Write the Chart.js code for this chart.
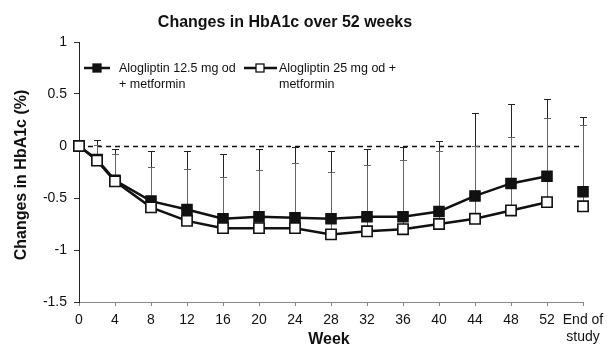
<!DOCTYPE html>
<html>
<head>
<meta charset="utf-8">
<script src="https://cdn.jsdelivr.net/npm/chart.js@4/dist/chart.umd.min.js"></script>
<style>
  html, body { margin: 0; padding: 0; background: #fff; }
  #wrap { width: 607px; height: 355px; position: relative; }
</style>
</head>
<body>
<div id="wrap"><canvas id="c" width="607" height="355"></canvas></div>
<script>
// ---- data ----
const weeks = [0, 2, 4, 8, 12, 16, 20, 24, 28, 32, 36, 40, 44, 48, 52];
const endOfStudyWeek = 56;
const xTickLabels = { 56: ['End of', 'study'] };
const yTickLabels = { 1: '1', 0.5: '0.5', 0: '0', '-0.5': '-0.5', '-1': '-1', '-1.5': '-1.5' };
const alo125 = [0, -0.13, -0.33, -0.53, -0.61, -0.70, -0.68, -0.69, -0.70, -0.68, -0.68, -0.63, -0.48, -0.36, -0.29];
const alo125End = -0.44;
const alo25 = [0, -0.14, -0.34, -0.59, -0.72, -0.79, -0.79, -0.79, -0.85, -0.82, -0.80, -0.75, -0.70, -0.62, -0.54];
const alo25End = -0.58;
// upper end of error bars (absolute values), null = no bar
const alo125Upper = [null, 0.06, -0.03, -0.05, -0.045, -0.08, -0.03, -0.01, -0.045, -0.025, -0.01, 0.045, 0.32, 0.40, 0.45];
const alo125UpperEnd = 0.275;
const alo25Upper = [null, 0.01, -0.08, -0.20, -0.22, -0.30, -0.23, -0.16, -0.25, -0.18, -0.135, -0.045, 0.00, 0.09, 0.265];
const alo25UpperEnd = 0.20;
const seriesNames = [['Alogliptin 12.5 mg od', '+ metformin'], ['Alogliptin 25 mg od +', 'metformin']];
const titleText = 'Changes in HbA1c over 52 weeks';
const yTitle = 'Changes in HbA1c (%)';
const xTitle = 'Week';

function buildPoints(vals, endVal) {
  const pts = weeks.map((w, i) => ({ x: w, y: vals[i] }));
  pts.push({ x: (weeks[weeks.length - 1] + endOfStudyWeek) / 2, y: null }); // gap before end of study
  pts.push({ x: endOfStudyWeek, y: endVal });
  return pts;
}
function buildUpper(vals, endVal) {
  const pts = weeks.map((w, i) => ({ x: w, y: vals[i] }));
  pts.push({ x: endOfStudyWeek, y: endVal });
  return pts;
}
const upperSets = [buildUpper(alo125Upper, alo125UpperEnd), buildUpper(alo25Upper, alo25UpperEnd)];
const meanSets = [buildPoints(alo125, alo125End), buildPoints(alo25, alo25End)];

const FONT = '"Liberation Sans", Arial, sans-serif';

const extras = {
  id: 'extras',
  beforeDatasetsDraw(chart) {
    const { ctx, chartArea, scales: { x, y } } = chart;
    ctx.save();
    // dashed zero line
    ctx.strokeStyle = '#111';
    ctx.lineWidth = 1.3;
    ctx.setLineDash([5, 4]);
    ctx.beginPath();
    const y0 = Math.round(y.getPixelForValue(0)) + 0.5;
    ctx.moveTo(chartArea.left, y0);
    ctx.lineTo(chartArea.right, y0);
    ctx.stroke();
    ctx.setLineDash([]);
    // error bars (upper only)
    const colors = ['#222', '#666'];
    [0, 1].forEach(s => {
      const means = meanSets[s].filter(p => p.y !== null);
      upperSets[s].forEach((p) => {
        if (p.y === null) return;
        const m = means.find(q => q.x === p.x);
        const px = Math.round(x.getPixelForValue(p.x)) + 0.5;
        const py1 = y.getPixelForValue(m.y);
        const py2 = Math.round(y.getPixelForValue(p.y)) + 0.5;
        ctx.strokeStyle = colors[s];
        ctx.lineWidth = 1;
        ctx.beginPath();
        ctx.moveTo(px, py1);
        ctx.lineTo(px, py2);
        ctx.moveTo(px - 3.5, py2);
        ctx.lineTo(px + 3.5, py2);
        ctx.stroke();
      });
    });
    ctx.restore();
  },
  afterDraw(chart) {
    const { ctx } = chart;
    ctx.save();
    ctx.fillStyle = '#111';
    // title
    ctx.font = 'bold 16px ' + FONT;
    ctx.textAlign = 'center';
    ctx.textBaseline = 'alphabetic';
    ctx.fillText(titleText, 285, 27);
    // x title
    ctx.fillText(xTitle, 329, 344);
    // y title
    ctx.save();
    ctx.translate(26, 175);
    ctx.rotate(-Math.PI / 2);
    ctx.fillText(yTitle, 0, 0);
    ctx.restore();
    // legend
    const items = [
      { x0: 84, x1: 110, sq: 97, tx: 119, fill: '#111' },
      { x0: 244, x1: 277, sq: 260, tx: 279, fill: '#fff' }
    ];
    ctx.font = '12.5px ' + FONT;
    ctx.textAlign = 'left';
    items.forEach((it, i) => {
      ctx.strokeStyle = '#111';
      ctx.lineWidth = 2.5;
      ctx.beginPath();
      ctx.moveTo(it.x0, 68);
      ctx.lineTo(it.x1, 68);
      ctx.stroke();
      ctx.lineWidth = 1.3;
      ctx.fillStyle = it.fill;
      ctx.fillRect(it.sq - 4, 64, 8, 8);
      ctx.strokeRect(it.sq - 4, 64, 8, 8);
      ctx.fillStyle = '#111';
      ctx.fillText(seriesNames[i][0], it.tx, 72);
      ctx.fillText(seriesNames[i][1], it.tx, 88);
    });
    ctx.restore();
  }
};

new Chart(document.getElementById('c'), {
  type: 'line',
  data: {
    datasets: [
      {
        label: seriesNames[0].join(' '),
        data: meanSets[0],
        order: 1,
        borderColor: '#111',
        backgroundColor: '#111',
        borderWidth: 2.5,
        pointStyle: 'rect',
        pointRadius: 7.3,
        pointBorderWidth: 1.2,
        pointBackgroundColor: '#111',
        pointBorderColor: '#111',
        spanGaps: false,
        clip: false,
        tension: 0
      },
      {
        label: seriesNames[1].join(' '),
        data: meanSets[1],
        order: 0,
        borderColor: '#111',
        backgroundColor: '#fff',
        borderWidth: 2.5,
        pointStyle: 'rect',
        pointRadius: 7.3,
        pointBorderWidth: 1.6,
        pointBackgroundColor: '#fff',
        pointBorderColor: '#111',
        spanGaps: false,
        clip: false,
        tension: 0
      }
    ]
  },
  options: {
    responsive: false,
    animation: false,
    events: [],
    layout: { padding: { left: 0, top: 42, right: 24, bottom: 0 } },
    plugins: { legend: { display: false }, title: { display: false }, tooltip: { enabled: false } },
    scales: {
      x: {
        type: 'linear',
        min: 0,
        max: 56,
        ticks: {
          stepSize: 4,
          autoSkip: false,
          maxRotation: 0,
          padding: 6,
          color: '#111',
          font: { family: FONT, size: 14 },
          callback: v => (xTickLabels[v] !== undefined ? xTickLabels[v] : String(v))
        },
        grid: { drawOnChartArea: false, drawTicks: true, tickLength: 4, color: '#888' },
        border: { color: '#888', width: 1 },
        afterFit(scale) { scale.height = 53; scale.paddingLeft = 0; scale.paddingRight = 0; }
      },
      y: {
        min: -1.5,
        max: 1,
        ticks: {
          stepSize: 0.5,
          padding: 7,
          color: '#111',
          font: { family: FONT, size: 14 },
          callback: v => (yTickLabels[String(v)] !== undefined ? yTickLabels[String(v)] : String(v))
        },
        grid: { drawOnChartArea: false, drawTicks: true, tickLength: 5, color: '#333' },
        border: { color: '#222', width: 1 },
        afterFit(scale) { scale.width = 79; scale.paddingTop = 0; scale.paddingBottom = 0; }
      }
    }
  },
  plugins: [extras]
});
</script>
</body>
</html>
